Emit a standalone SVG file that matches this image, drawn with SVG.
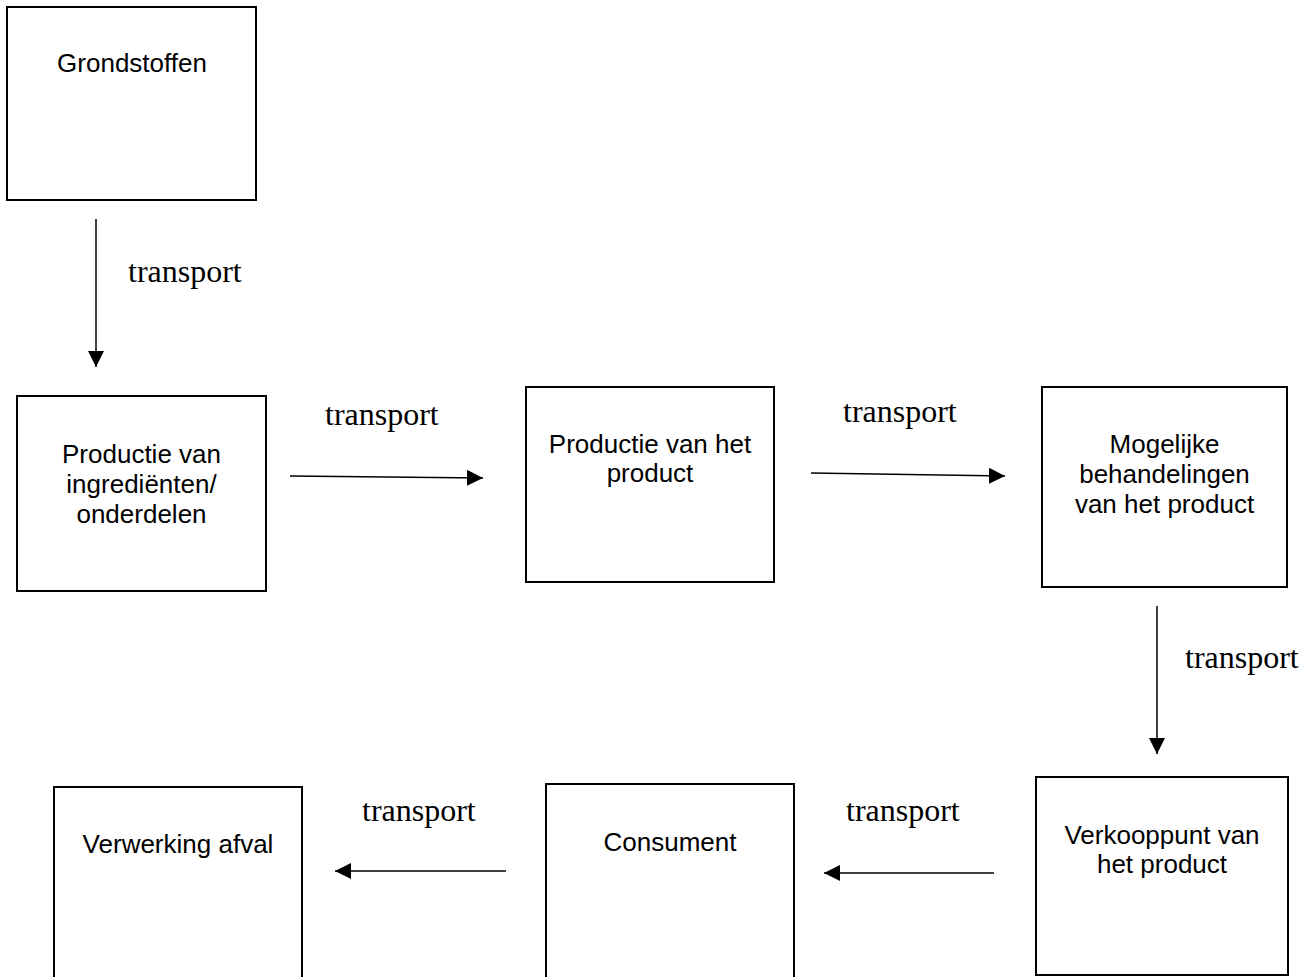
<svg xmlns="http://www.w3.org/2000/svg" width="1314" height="977" viewBox="0 0 1314 977">
  <style>
    .box { fill: #ffffff; stroke: #000000; stroke-width: 2; }
    .lbl { font-family: "Liberation Sans", Arial, sans-serif; font-size: 26px; fill: #000000; text-anchor: middle; }
    .tr { font-family: "Liberation Serif", "Times New Roman", serif; font-size: 32px; fill: #000000; }
    .conn { stroke: #000000; stroke-width: 1.5; fill: none; marker-end: url(#arrow); }
  </style>
  <defs>
    <marker id="arrow" viewBox="0 0 16 16" refX="16" refY="8" markerWidth="16" markerHeight="16" markerUnits="userSpaceOnUse" orient="auto">
      <path d="M0,0 L16,8 L0,16 Z" fill="#000000"/>
    </marker>
  </defs>
  <rect width="1314" height="977" fill="#ffffff"/>

  <g id="node-grondstoffen">
    <rect class="box" x="7" y="7" width="249" height="193"/>
    <text class="lbl" x="132" y="72">Grondstoffen</text>
  </g>

  <g id="node-productie-ingredienten">
    <rect class="box" x="17" y="396" width="249" height="195"/>
    <text class="lbl" x="141.5" y="463">Productie van</text>
    <text class="lbl" x="141.5" y="493">ingrediënten/</text>
    <text class="lbl" x="141.5" y="523">onderdelen</text>
  </g>

  <g id="node-productie-product">
    <rect class="box" x="526" y="387" width="248" height="195"/>
    <text class="lbl" x="650" y="453">Productie van het</text>
    <text class="lbl" x="650" y="482">product</text>
  </g>

  <g id="node-behandelingen">
    <rect class="box" x="1042" y="387" width="245" height="200"/>
    <text class="lbl" x="1164.5" y="453">Mogelijke</text>
    <text class="lbl" x="1164.5" y="483">behandelingen</text>
    <text class="lbl" x="1164.5" y="513">van het product</text>
  </g>

  <g id="node-verkooppunt">
    <rect class="box" x="1036" y="777" width="252" height="198"/>
    <text class="lbl" x="1162" y="844">Verkooppunt van</text>
    <text class="lbl" x="1162" y="873">het product</text>
  </g>

  <g id="node-consument">
    <rect class="box" x="546" y="784" width="248" height="220"/>
    <text class="lbl" x="670" y="851">Consument</text>
  </g>

  <g id="node-verwerking-afval">
    <rect class="box" x="54" y="787" width="248" height="220"/>
    <text class="lbl" x="178" y="853">Verwerking afval</text>
  </g>

  <g id="connectors">
    <line class="conn" x1="96" y1="219" x2="96" y2="367"/>
    <text class="tr" x="128" y="282">transport</text>

    <line class="conn" x1="290" y1="476" x2="483" y2="478"/>
    <text class="tr" x="325" y="425">transport</text>

    <line class="conn" x1="811" y1="473" x2="1005" y2="476"/>
    <text class="tr" x="843" y="422">transport</text>

    <line class="conn" x1="1157" y1="606" x2="1157" y2="754"/>
    <text class="tr" x="1185" y="668">transport</text>

    <line class="conn" x1="994" y1="873" x2="824" y2="873"/>
    <text class="tr" x="846" y="821">transport</text>

    <line class="conn" x1="506" y1="871" x2="335" y2="871"/>
    <text class="tr" x="362" y="821">transport</text>
  </g>
</svg>
